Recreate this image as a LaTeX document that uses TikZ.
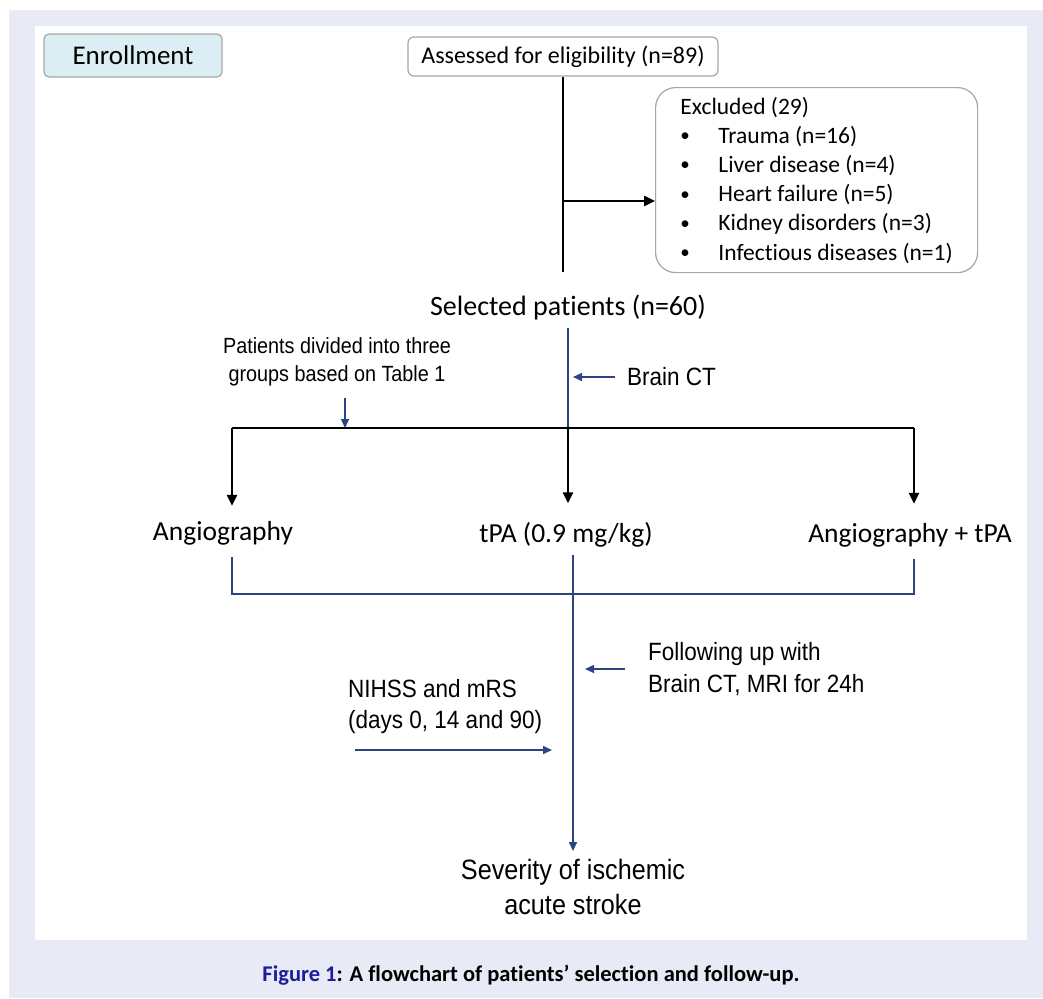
\documentclass[tikz,border=0pt]{standalone}
\usepackage{fontspec}
\setmainfont{Carlito}[Ligatures={NoCommon}]
\newfontfamily\narrowFont[FakeStretch=0.9]{Liberation Sans}
\usepackage{tikz}
\usetikzlibrary{shapes.geometric, arrows, arrows.meta}
\usetikzlibrary{positioning}
\definecolor{pageBg}{HTML}{E8EBF6}
\definecolor{tagFill}{HTML}{DBEEF3}
\definecolor{boxGray}{HTML}{A6A6A6}
\definecolor{navy}{HTML}{2B4584}
\definecolor{capBlue}{HTML}{1C1C9C}
\newcommand{\listDot}{\makebox[38pt][l]{\raisebox{1.5pt}{\fontsize{19}{19}\selectfont\textbullet}}}
\tikzstyle{tagBox} = [rectangle, rounded corners=5pt, draw=boxGray, line width=1.2pt, fill=tagFill, minimum width=178pt, minimum height=43pt, font=\fontsize{27}{32}\selectfont]
\tikzstyle{roundBox} = [rectangle, rounded corners=6pt, draw=boxGray, line width=1.2pt, fill=white]
\tikzstyle{plainText} = [inner sep=0pt, font=\fontsize{27.5}{32}\selectfont]
\tikzstyle{noteText} = [inner sep=0pt, align=left, font=\narrowFont\fontsize{25}{31}\selectfont]
\tikzstyle{arrow} = [line width=2.4pt, ->, >={Triangle[length=11pt, width=10pt]}]
\tikzstyle{link} = [line width=2.4pt, -]
\tikzstyle{navyLink} = [line width=1.5pt, draw=navy, -]
\tikzstyle{navyArrow} = [line width=1.5pt, draw=navy, ->, >={Triangle[length=9pt, width=8pt]}]

\begin{document}
\begin{tikzpicture}[x=1pt, y=-1pt]
\useasboundingbox (0,0) rectangle (1043,998);
\fill[pageBg] (9,10) rectangle (1043,998);
\fill[white] (35,26) rectangle (1027,940);

\node (enroll) [tagBox] at (133,55.5) {Enrollment};
\node (assess) [roundBox, minimum width=310pt, minimum height=39pt, font=\fontsize{24}{29}\selectfont] at (563,56.5) {Assessed for eligibility (n=89)};
\node (excl) [roundBox, rounded corners=20pt, anchor=north west, minimum width=322pt, minimum height=185pt, inner xsep=24pt, align=left, font=\fontsize{23.5}{29.2}\selectfont] at (655,87) {Excluded (29)\\
    \listDot Trauma (n=16)\\
    \listDot Liver disease (n=4)\\
    \listDot Heart failure (n=5)\\
    \listDot Kidney disorders (n=3)\\
    \listDot Infectious diseases (n=1)};
\node (selected) [plainText, font=\fontsize{28}{32}\selectfont] at (568,308) {Selected patients (n=60)};
\node (ct) [noteText, anchor=west] at (627,377) {Brain CT};
\node (divide) [noteText, align=center, font=\narrowFont\fontsize{22}{28}\selectfont] at (337,362) {Patients divided into three\\groups based on Table 1};
\node (angio) [plainText] at (223,533) {Angiography};
\node (tpa) [plainText] at (566,535) {tPA (0.9 mg/kg)};
\node (both) [plainText] at (910,535) {Angiography + tPA};
\node (follow) [noteText, anchor=west, font=\narrowFont\fontsize{25}{32}\selectfont] at (648,669) {Following up with\\Brain CT, MRI for 24h};
\node (scores) [noteText, anchor=west] at (348,707) {NIHSS and mRS\\(days 0, 14 and 90)};
\node (severity) [noteText, align=center, font=\narrowFont\fontsize{28}{35}\selectfont] at (573,887) {Severity of ischemic\\acute stroke};
\node (caption) [inner sep=0pt, font=\bfseries\fontsize{22.5}{26}\selectfont] at (531,975) {\textcolor{capBlue}{Figure 1}: A flowchart of patients’ selection and follow-up.};

\coordinate (trunkEnd) at (563,272);
\coordinate (branch) at (563,201);
\coordinate (split) at (568,428);
\coordinate (leftTop) at (232,428);
\coordinate (rightTop) at (914,428);
\coordinate (leftBot) at (232,594);
\coordinate (rightBot) at (914,594);
\coordinate (scoreTail) at (355,750);

\draw [link] (assess) -- (trunkEnd);
\draw [arrow] (branch) -- (excl.west |- branch);
\draw [navyLink, shorten <=7pt] (selected) -- (split);
\draw [navyArrow] ([xshift=-12pt]ct.west) -- ([xshift=5pt]split |- ct.west);
\draw [navyArrow] ([xshift=8pt, yshift=-12pt]divide.south) -- ([xshift=8pt]divide.south |- leftTop);
\draw [link] (leftTop) -- (rightTop);
\draw [arrow, shorten >=15pt] (leftTop) -- (leftTop |- angio.north);
\draw [arrow, shorten >=19pt] (split) -- (split |- tpa.north);
\draw [arrow, shorten >=19pt] (rightTop) -- (rightTop |- both.north);
\draw [navyLink, shorten <=12pt, shorten >=12pt] (leftTop |- angio.south) -- (leftBot) -- (rightBot) -- (rightTop |- both.south);
\draw [navyArrow, shorten <=7pt, shorten >=8pt] (severity |- tpa.south) -- (severity.north);
\draw [navyArrow] ([xshift=-23pt]follow.west) -- ([xshift=12pt]severity |- follow.west);
\draw [navyArrow] (scoreTail) -- ([xshift=-21pt]severity |- scoreTail);
\end{tikzpicture}
\end{document}
